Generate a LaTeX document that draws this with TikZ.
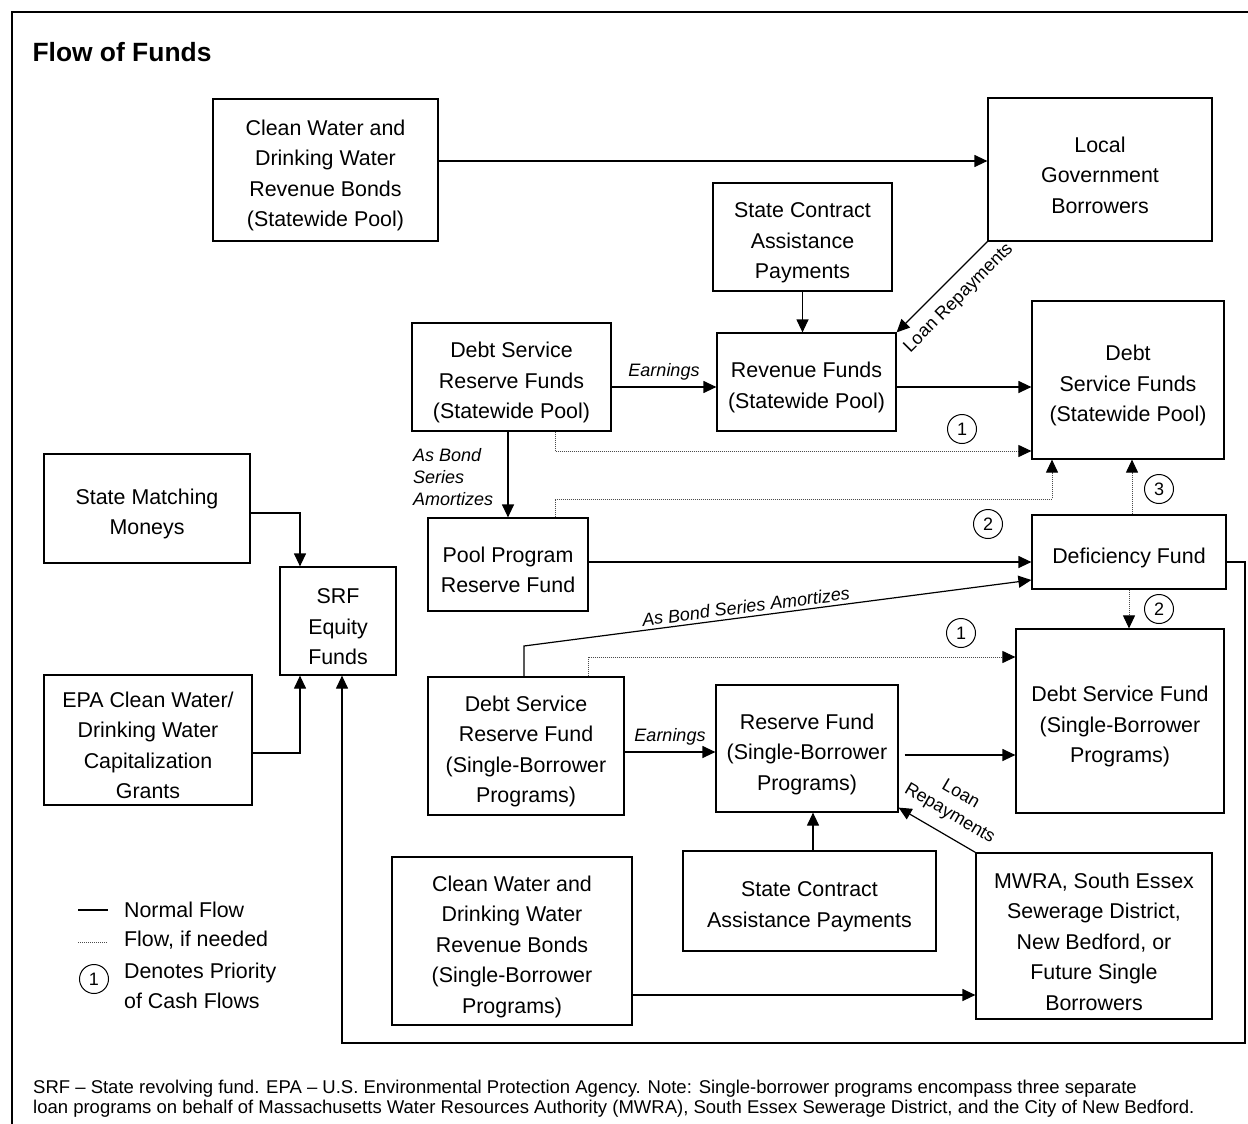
\documentclass[tikz,border=0pt]{standalone}
\usepackage{fontspec}
\setmainfont{Liberation Sans}
\usetikzlibrary{arrows.meta}

\newcommand\ts{\rule{0pt}{26.5pt}}

\tikzset{
    box/.style={draw,line width=1.2pt,inner sep=0pt,align=center,font=\fontsize{21.4pt}{30.5pt}\selectfont},
    flow/.style={line width=1.2pt,-{Triangle[length=13pt,width=12pt]}},
    ifneeded/.style={draw=black!70,line width=1pt,dash pattern=on 1pt off 1pt,-{Triangle[length=13pt,width=12pt,color=black]}},
    num/.style={circle,draw,line width=1pt,minimum size=29pt,inner sep=0pt,font=\fontsize{18pt}{18pt}\selectfont},
    lbl/.style={font=\fontsize{18pt}{22pt}\selectfont\itshape},
    rlbl/.style={font=\fontsize{18pt}{22pt}\selectfont,align=center},
    txt/.style={font=\fontsize{21.4pt}{30.5pt}\selectfont,align=left}
}

\begin{document}
\begin{tikzpicture}[x=1pt,y=-1pt]
                    \useasboundingbox (0,0) rectangle (1248,1124);
                    \draw[line width=1.2pt](12,1124)--(12,12)--(1248,12);
                    \node[anchor=west,font=\fontsize{26.4pt}{30pt}\selectfont\bfseries](T) at (29,52){Flow of Funds};
                    % statewide pool
                    \node[box,minimum width=225pt,minimum height=142pt](A) at (325.5,170){\ts Clean Water and\\Drinking Water\\Revenue Bonds\\(Statewide Pool)};
                    \node[box,minimum width=224pt,minimum height=143pt](B) at (1100,169.5){\ts Local\\Government\\Borrowers};
                    \node[box,minimum width=179pt,minimum height=108pt](C) at (802.5,237){\ts State Contract\\Assistance\\Payments};
                    \node[box,minimum width=179pt,minimum height=98pt](D) at (806.5,382){\ts Revenue Funds\\(Statewide Pool)};
                    \node[box,minimum width=192pt,minimum height=158pt](E) at (1128,380){\ts Debt\\Service Funds\\(Statewide Pool)};
                    \node[box,minimum width=199pt,minimum height=108pt](F) at (511.5,377){\ts Debt Service\\Reserve Funds\\(Statewide Pool)};
                    \node[box,minimum width=160pt,minimum height=93pt](G) at (508,564.5){\ts Pool Program\\Reserve Fund};
                    \node[box,minimum width=194pt,minimum height=74pt](H) at (1129,552){\ts Deficiency Fund};
                    % single-borrower programs
                    \node[box,minimum width=208pt,minimum height=184pt](I) at (1120,721){\ts Debt Service Fund\\(Single-Borrower\\Programs)};
                    \node[box,minimum width=196pt,minimum height=138pt](J) at (526,746){\ts Debt Service\\Reserve Fund\\(Single-Borrower\\Programs)};
                    \node[box,minimum width=182pt,minimum height=127pt](K) at (807,748.5){\ts Reserve Fund\\(Single-Borrower\\Programs)};
                    \node[box,minimum width=253pt,minimum height=100pt](L) at (809.5,901){\ts State Contract\\Assistance Payments};
                    \node[box,minimum width=236pt,minimum height=166pt](M) at (1094,936){\ts MWRA, South Essex\\Sewerage District,\\New Bedford, or\\Future Single\\Borrowers};
                    \node[box,minimum width=240pt,minimum height=168pt](N) at (512,941){\ts Clean Water and\\Drinking Water\\Revenue Bonds\\(Single-Borrower\\Programs)};
                    % equity
                    \node[box,minimum width=206pt,minimum height=109pt](O) at (147,508.5){\ts State Matching\\Moneys};
                    \node[box,minimum width=116pt,minimum height=108pt](P) at (338,621){\ts SRF\\Equity\\Funds};
                    \node[box,minimum width=208pt,minimum height=130pt](Q) at (148,740){\ts EPA Clean Water/\\Drinking Water\\Capitalization\\Grants};
                    % priorities
                    \node[num](n1) at (962,429){1};
                    \node[num](n2) at (988,524){2};
                    \node[num](n3) at (1159,489){3};
                    \node[num](n4) at (1159,609){2};
                    \node[num](n5) at (961,633){1};
                    % normal flow
                    \draw[flow](A.east |- 0,161)--(B.west |- 0,161);
                    \draw[flow](C.south)--(C.south |- D.north);
                    \draw[flow](B.south west)--node[rlbl,sloped,below=8pt,pos=0.47]{Loan Repayments}(D.north east);
                    \draw[flow](F.east |- 0,387)--node[lbl,above=3pt]{Earnings}(D.west |- 0,387);
                    \draw[flow](D.east |- 0,387)--(E.west |- 0,387);
                    \draw[flow](G.north |- F.south)--(G.north);
                    \node[lbl,anchor=west,align=left](S) at (409.6,477){As Bond\\Series\\Amortizes};
                    \draw[flow](G.east |- 0,562)--(H.west |- 0,562);
                    \draw[flow](J.north -| 524,0)--(524,646)--node[lbl,sloped,above,pos=0.44]{As Bond Series Amortizes}(H.west |- 0,580);
                    \draw[flow](J.east |- 0,752)--node[lbl,above=3pt]{Earnings}(K.west |- 0,752);
                    \draw[flow,shorten <=6pt](K.east |- 0,755)--(I.west |- 0,755);
                    \draw[flow](L.north -| 813,0)--(K.south -| 813,0);
                    \draw[flow](M.north west)--node[rlbl,sloped,above=8pt,pos=0.47]{Loan\\Repayments}([yshift=5pt]K.south east);
                    \draw[flow](N.east |- 0,995)--(M.west |- 0,995);
                    \draw[flow](O.east |- 0,513)-|(P.north -| 300,0);
                    \draw[flow](Q.east |- 0,753)-|(P.south -| 300,0);
                    \draw[flow](H.east |- 0,562)-|(1245,1043)-|(P.south -| 342,0);
                    % flow if needed
                    \draw[ifneeded](F.south -| 555,0)|-(E.west |- 0,451);
                    \draw[ifneeded](G.north -| 555,0)|-(1052,499)--(E.south -| 1052,0);
                    \draw[ifneeded](H.north -| 1132,0)--(E.south -| 1132,0);
                    \draw[ifneeded](H.south -| 1129,0)--(I.north -| 1129,0);
                    \draw[ifneeded](J.north -| 588,0)|-(I.west |- 0,657);
                    % legend
                    \node[txt,anchor=west](l1) at (120.6,910){Normal Flow};
                    \node[txt,anchor=west](l2) at (120.6,940){Flow, if needed};
                    \node[txt,anchor=west](l3) at (120.6,986){Denotes Priority\\of Cash Flows};
                    \node[num](n6) at (94,979){1};
                    \draw[line width=1.2pt]([xshift=-42.6pt]l1.west)--([xshift=-12.6pt]l1.west);
                    \draw[draw=black!70,line width=1pt,dash pattern=on 1pt off 1pt]([xshift=-42.6pt,yshift=-2pt]l2.west)--([xshift=-12.6pt,yshift=-2pt]l2.west);
                    % footnote
                    \node[anchor=north west,align=left,inner sep=0pt,font=\fontsize{18.5pt}{20pt}\selectfont](X) at (33,1080){SRF -- State revolving fund. EPA -- U.S. Environmental Protection Agency. Note: Single-borrower programs encompass three separate\\loan programs on behalf of Massachusetts Water Resources Authority (MWRA), South Essex Sewerage District, and the City of New Bedford.};
                \end{tikzpicture}
\end{document}
